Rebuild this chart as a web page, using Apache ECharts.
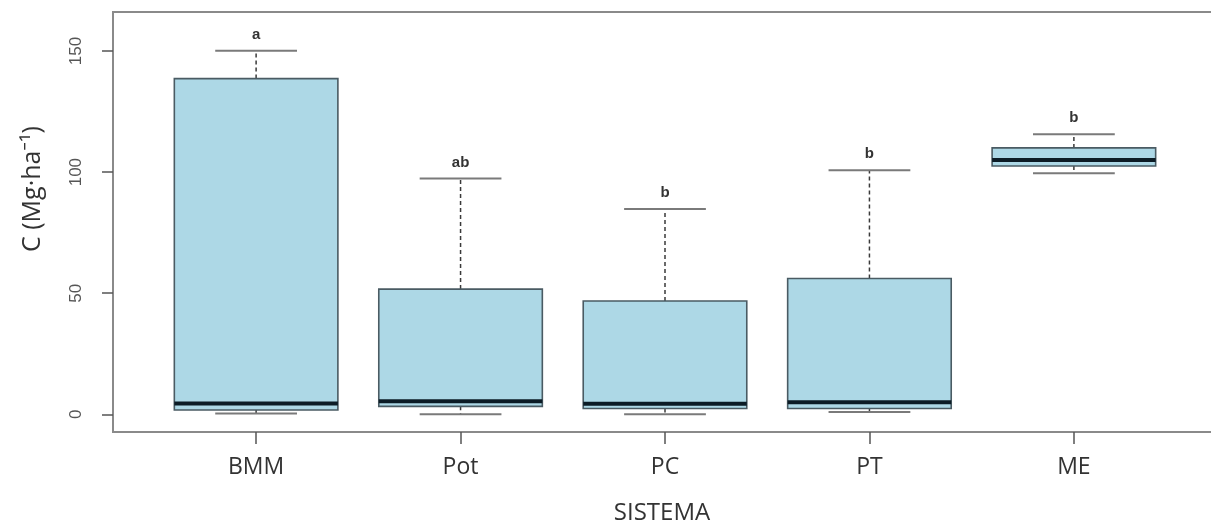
<!DOCTYPE html>
<html>
<head>
<meta charset="utf-8">
<script src="https://cdn.jsdelivr.net/npm/echarts@6/dist/echarts.min.js"></script>
<style>
html,body{margin:0;padding:0;background:#fff;}
#chart{width:1211px;height:529px;}
</style>
</head>
<body>
<div id="chart"></div>
<script>
var categories = ['BMM', 'Pot', 'PC', 'PT', 'ME'];
var whiskerLow  = [0.3, 0, 0, 1, 99.5];
var q1          = [1.8, 3.3, 2.4, 2.4, 102.5];
var median      = [4.5, 5.4, 4.4, 5.0, 105];
var q3          = [138.6, 51.7, 46.8, 56.1, 110];
var whiskerHigh = [150.1, 97.4, 84.8, 100.8, 115.6];
var letters     = ['a', 'ab', 'b', 'b', 'b'];
var yTicks      = [0, 50, 100, 150];

var data = categories.map(function (c, i) {
  return [i + 1, whiskerLow[i], q1[i], median[i], q3[i], whiskerHigh[i], i];
});

function renderItem(params, api) {
  var x = api.value(0);
  var pLow = api.coord([x, api.value(1)]);
  var pQ1 = api.coord([x, api.value(2)]);
  var pMed = api.coord([x, api.value(3)]);
  var pQ3 = api.coord([x, api.value(4)]);
  var pHigh = api.coord([x, api.value(5)]);
  var unit = api.size([1, 0])[0];
  var bw = unit * 0.8;
  var cw = unit * 0.4;
  var cx = pMed[0];
  var idx = api.value(6);
  var whiskerStyle = { stroke: '#3a3a3a', lineWidth: 1.5, lineDash: [4, 3], fill: null };
  var capStyle = { stroke: '#7a7a7a', lineWidth: 2, fill: null };
  return {
    type: 'group',
    children: [
      { type: 'line', shape: { x1: cx, y1: pQ3[1], x2: cx, y2: pHigh[1] }, style: whiskerStyle },
      { type: 'line', shape: { x1: cx, y1: pQ1[1], x2: cx, y2: pLow[1] }, style: whiskerStyle },
      { type: 'line', shape: { x1: cx - cw / 2, y1: pHigh[1], x2: cx + cw / 2, y2: pHigh[1] }, style: capStyle },
      { type: 'line', shape: { x1: cx - cw / 2, y1: pLow[1], x2: cx + cw / 2, y2: pLow[1] }, style: capStyle },
      { type: 'rect', shape: { x: cx - bw / 2, y: pQ3[1], width: bw, height: pQ1[1] - pQ3[1] },
        style: { fill: '#add8e6', stroke: '#4a5b63', lineWidth: 1.6 } },
      { type: 'line', shape: { x1: cx - bw / 2, y1: pMed[1], x2: cx + bw / 2, y2: pMed[1] },
        style: { stroke: '#0c1c26', lineWidth: 4 } },
      { type: 'text', x: cx, y: pHigh[1] - 16,
        style: { text: letters[idx], fill: '#333', font: 'bold 15px "Liberation Sans", Arial, sans-serif',
                 align: 'center', verticalAlign: 'middle' } }
    ]
  };
}

var chart = echarts.init(document.getElementById('chart'), null, { renderer: 'canvas' });
chart.setOption({
  animation: false,
  backgroundColor: '#fff',
  grid: { left: 113, top: 12, width: 1104, height: 420, outerBoundsMode: 'none', containLabel: false,
          show: true, borderColor: '#8a8a8a', borderWidth: 2, backgroundColor: 'transparent' },
  xAxis: {
    type: 'value', min: 0.3, max: 5.7,
    axisLine: { show: false, onZero: false },
    splitLine: { show: false },
    axisTick: { show: true, inside: false, length: 12, customValues: [1, 2, 3, 4, 5], lineStyle: { color: '#555', width: 1.5 } },
    axisLabel: {
      customValues: [1, 2, 3, 4, 5], margin: 24,
      formatter: function (v) { return categories[Math.round(v) - 1] || ''; },
      color: '#333', fontSize: 23, fontFamily: '"Open Sans", "Noto Sans", sans-serif'
    }
  },
  yAxis: {
    type: 'value', min: -7.3, max: 166.1,
    axisLine: { show: false, onZero: false },
    splitLine: { show: false },
    axisTick: { show: true, inside: false, length: 11, customValues: yTicks, lineStyle: { color: '#555', width: 1.5 } },
    axisLabel: {
      customValues: yTicks, rotate: 90, margin: 28,
      color: '#555', fontSize: 17, fontFamily: '"Liberation Sans", Arial, sans-serif'
    }
  },
  graphic: [
    { type: 'text', x: 662, y: 513,
      style: { text: 'SISTEMA', fill: '#333', font: '24px "Open Sans", "Noto Sans", sans-serif', align: 'center', verticalAlign: 'middle' } },
    { type: 'text', x: 33, y: 189, rotation: Math.PI / 2,
      style: { text: 'C (Mg·ha⁻¹)', fill: '#333', font: '25px "Open Sans", "Noto Sans", sans-serif', align: 'center', verticalAlign: 'middle' } }
  ],
  series: [{
    type: 'custom',
    renderItem: renderItem,
    encode: { x: 0, y: [1, 2, 3, 4, 5] },
    data: data,
    clip: false
  }]
});
</script>
</body>
</html>
